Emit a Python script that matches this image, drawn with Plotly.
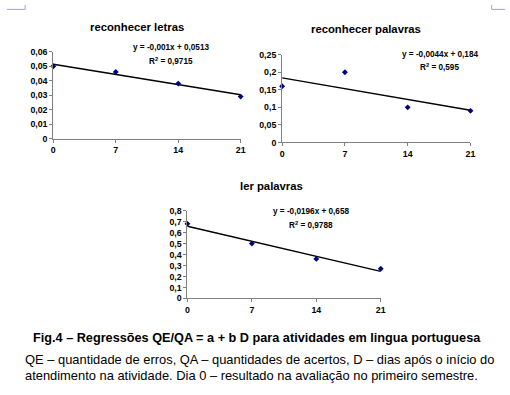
import plotly.graph_objects as go

days = [0, 7, 14, 21]
titles = ["reconhecer letras", "reconhecer palavras", "ler palavras"]
letras = [0.05, 0.046, 0.038, 0.029]
palavras_rec = [0.16, 0.2, 0.1, 0.09]
palavras_ler = [0.68, 0.5, 0.36, 0.27]
slopes = [-0.001, -0.0044, -0.0196]
intercepts = [0.0513, 0.184, 0.658]
eq_labels = ["y = -0,001x + 0,0513", "y = -0,0044x + 0,184", "y = -0,0196x + 0,658"]
r2_labels = ["0,9715", "0,595", "0,9788"]
y_max = [0.06, 0.25, 0.8]
y_dtick = [0.01, 0.05, 0.1]
caption = "Fig.4 – Regressões QE/QA = a + b D para atividades em lingua portuguesa"
note1 = "QE – quantidade de erros, QA – quantidades de acertos, D – dias após o início do"
note2 = "atendimento na atividade. Dia 0 – resultado na avaliação no primeiro semestre."

series = [letras, palavras_rec, palavras_ler]

W, H = 510, 395
def px(x):
    return x / W
def py(y):
    return 1 - y / H

# domains in pixels: (x0, x1, ybottom, ytop)
boxes = [(52, 242, 137, 48), (284, 475, 141, 51), (188, 384, 301, 211)]
title_pos = [(137, 23), (369, 25), (273, 186)]
eq_pos = [(171, 44, 57), (444, 51, 64), (313, 212, 226)]

fig = go.Figure()
FONT = "Liberation Sans, Arial, sans-serif"
layout = dict(width=W, height=H, margin=dict(l=0, r=0, t=0, b=0),
              paper_bgcolor="white", plot_bgcolor="white", showlegend=False,
              separators=",.", font=dict(family=FONT, color="black"))
annotations = []
shapes = []
TICKF = dict(size=8.8, family=FONT, color="black", weight="bold")
for i in range(3):
    n = "" if i == 0 else str(i + 1)
    xa = "x" + n
    ya = "y" + n
    x0, x1, yb, yt = boxes[i]
    layout["xaxis" + n] = dict(domain=[px(x0), px(x1)], range=[0, 21], anchor=ya,
                               tickvals=days, ticks="outside", ticklen=3, tickcolor="#808080",
                               showline=True, linecolor="#808080", linewidth=1,
                               showgrid=False, zeroline=False, tickfont=TICKF)
    layout["yaxis" + n] = dict(domain=[py(yb), py(yt)], range=[0, y_max[i]], anchor=xa,
                               dtick=y_dtick[i], ticks="outside", ticklen=3, tickcolor="#808080",
                               showline=True, linecolor="#808080", linewidth=1,
                               showgrid=False, zeroline=False, tickfont=TICKF)
    tx = [0, 21]
    ty = [intercepts[i] + slopes[i] * t for t in tx]
    fig.add_trace(go.Scatter(x=tx, y=ty, mode="lines", line=dict(color="black", width=1.5),
                             xaxis=xa, yaxis=ya, cliponaxis=False))
    fig.add_trace(go.Scatter(x=days, y=series[i], mode="markers",
                             marker=dict(symbol="diamond", size=4.5, color="#000080"),
                             xaxis=xa, yaxis=ya, cliponaxis=False))
    tpx, tpy = title_pos[i]
    annotations.append(dict(x=px(tpx), y=py(tpy), xref="paper", yref="paper", text=titles[i],
                            showarrow=False, xanchor="center", yanchor="middle",
                            font=dict(size=11.3, family=FONT, weight="bold")))
    ex, ey1, ey2 = eq_pos[i]
    annotations.append(dict(x=px(ex), y=py(ey1), xref="paper", yref="paper", text=eq_labels[i],
                            showarrow=False, xanchor="center", yanchor="middle",
                            font=dict(size=8.2, family=FONT, weight="bold")))
    annotations.append(dict(x=px(ex), y=py(ey2), xref="paper", yref="paper",
                            text="R<sup>2</sup> = " + r2_labels[i],
                            showarrow=False, xanchor="center", yanchor="middle",
                            font=dict(size=8.2, family=FONT, weight="bold")))

annotations.append(dict(x=px(259), y=py(342), xref="paper", yref="paper", text=caption,
                        showarrow=False, xanchor="center", yanchor="middle",
                        font=dict(size=12.7, family=FONT, weight="bold")))
annotations.append(dict(x=px(21), y=py(364), xref="paper", yref="paper", text=note1,
                        showarrow=False, xanchor="left", yanchor="middle",
                        font=dict(size=12.9, family=FONT)))
annotations.append(dict(x=px(21), y=py(380), xref="paper", yref="paper", text=note2,
                        showarrow=False, xanchor="left", yanchor="middle",
                        font=dict(size=12.9, family=FONT)))

# page corner marks
mark = dict(color="#a0a0c8", width=1)
shapes.append(dict(type="path", xref="paper", yref="paper",
                   path=f"M {px(5)} {py(4.5)} L {px(23.5)} {py(4.5)} L {px(23.5)} {py(0)}", line=mark))
shapes.append(dict(type="path", xref="paper", yref="paper",
                   path=f"M {px(496.5)} {py(0)} L {px(496.5)} {py(4.5)} L {px(510)} {py(4.5)}", line=mark))

layout["annotations"] = annotations
layout["shapes"] = shapes
fig.update_layout(**layout)
fig.write_html("out.html", config={"displayModeBar": False},
               post_script="document.body.style.margin='0';document.body.style.overflow='hidden';")
